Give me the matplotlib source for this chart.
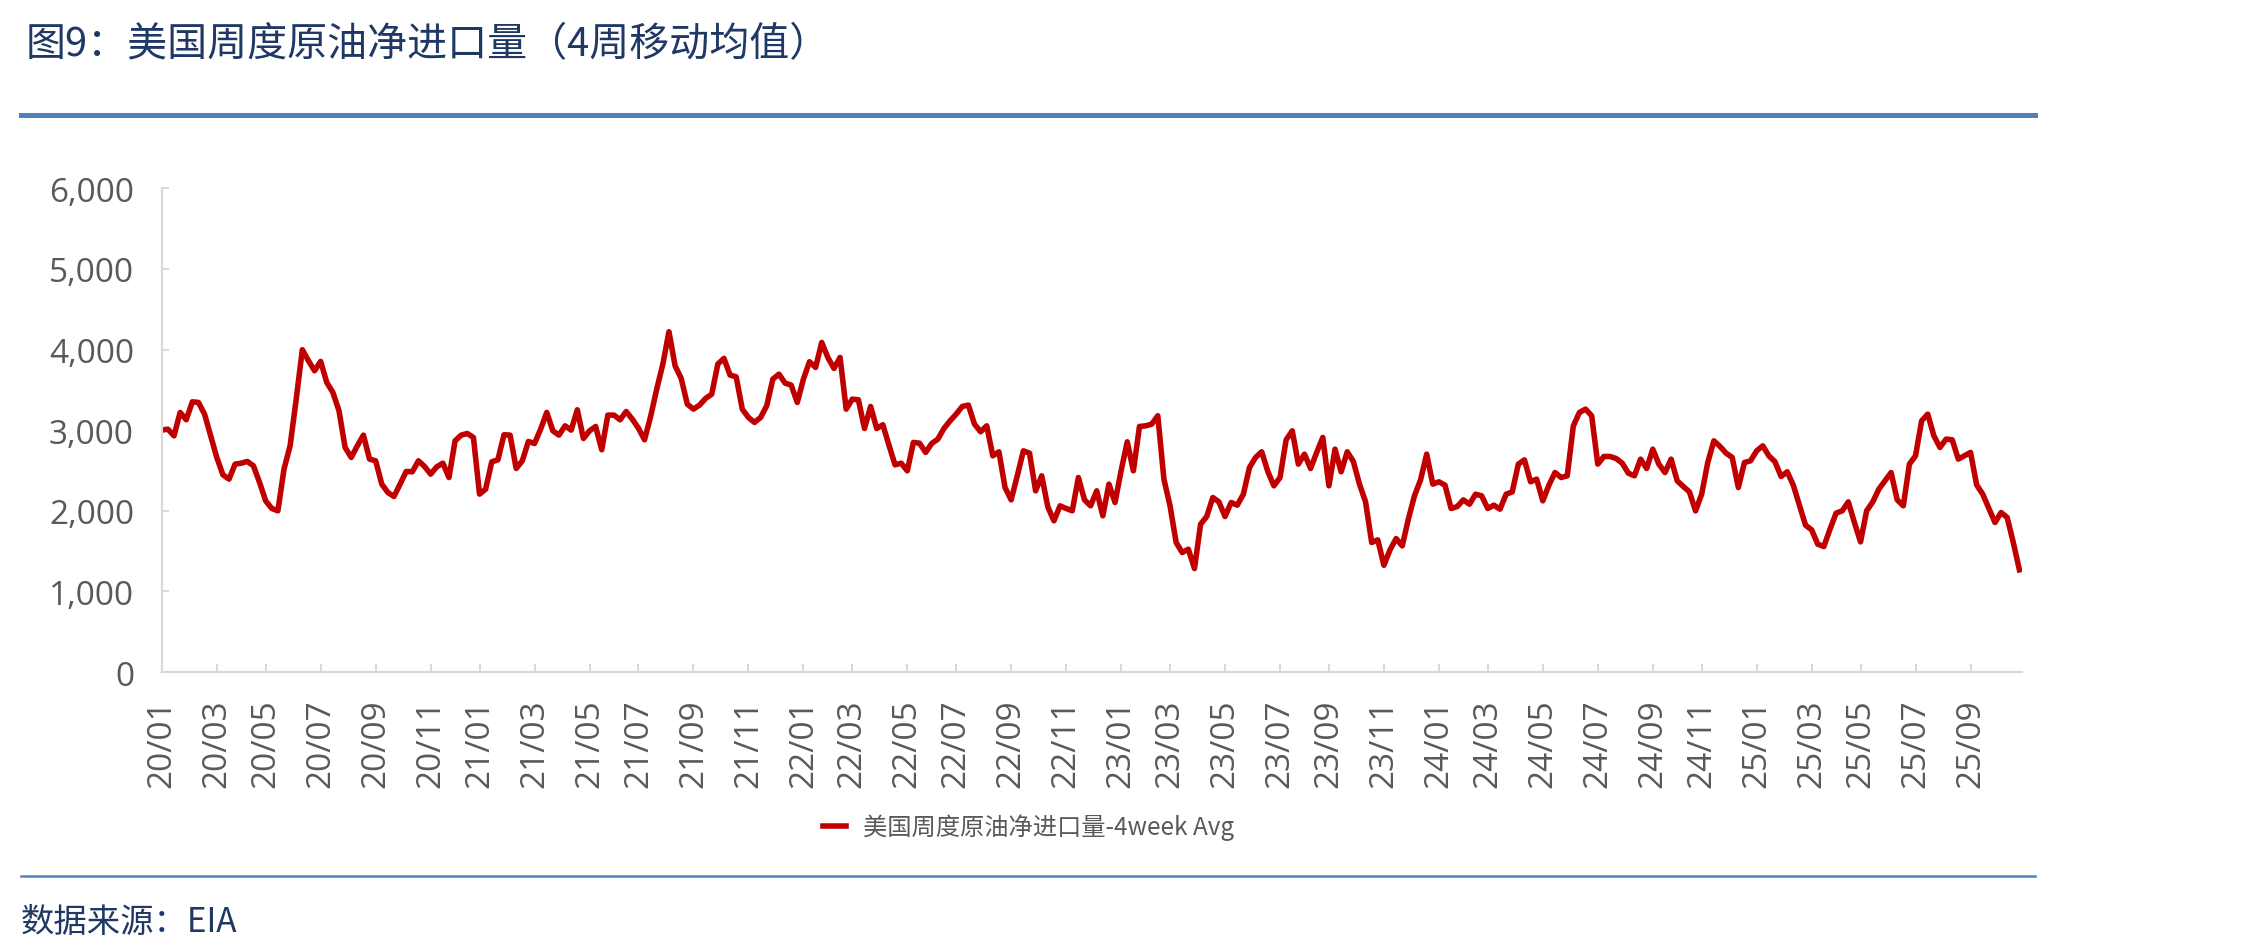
import numpy as np
import pandas as pd
import matplotlib
matplotlib.use("Agg")
import matplotlib.pyplot as plt
from matplotlib.lines import Line2D
from matplotlib.ticker import FuncFormatter, MultipleLocator

plt.rcParams["font.family"] = ["Noto Sans CJK SC", "DejaVu Sans"]

# 美国周度原油净进口量 4周均值（千桶/日），每周一个点，2020-01-03 起
start_date = "2020-01-03"
vals_2020 = [3001, 3013, 2930, 3220, 3129, 3352, 3344, 3199, 2930, 2662, 2447, 2393, 2579,
             2591, 2612, 2558, 2352, 2124, 2029, 2000, 2517, 2806, 3385, 3998, 3861, 3737,
             3853, 3592, 3468, 3241, 2786, 2662, 2806, 2939, 2641, 2620, 2331, 2227, 2178,
             2331, 2488, 2484, 2620, 2550, 2455, 2546, 2591, 2413, 2868, 2939, 2959, 2910]
vals_2021 = [2207, 2269, 2608, 2632, 2943, 2939, 2525, 2620, 2860, 2835, 3013, 3220, 2992,
             2939, 3054, 3001, 3253, 2897, 2992, 3046, 2757, 3187, 3187, 3129, 3232, 3137,
             3025, 2881, 3170, 3509, 3820, 4221, 3799, 3642, 3323, 3261, 3311, 3394, 3447,
             3820, 3890, 3683, 3662, 3261, 3158, 3096, 3158, 3303, 3633, 3695, 3584, 3559,
             3344, 3633]
vals_2022 = [3849, 3778, 4088, 3902, 3766, 3902, 3261, 3385, 3377, 3021, 3294, 3021, 3067,
             2814, 2570, 2591, 2496, 2848, 2839, 2724, 2835, 2889, 3021, 3116, 3199, 3294,
             3311, 3075, 2980, 3054, 2682, 2732, 2289, 2136, 2434, 2744, 2715, 2248, 2434,
             2049, 1876, 2062, 2029, 2000, 2413, 2136, 2062, 2248, 1938, 2331, 2103]
vals_2023 = [2500, 2856, 2496, 3046, 3054, 3075, 3179, 2393, 2062, 1607, 1483, 1524, 1284,
             1834, 1929, 2165, 2111, 1929, 2103, 2070, 2206, 2537, 2662, 2732, 2488, 2310,
             2413, 2881, 2992, 2579, 2703, 2525, 2724, 2910, 2310, 2765, 2484, 2732, 2612,
             2331, 2111, 1607, 1640, 1325, 1516, 1656, 1565, 1896, 2186, 2384, 2703, 2331,
             2360]
vals_2024 = [2318, 2029, 2053, 2136, 2082, 2206, 2186, 2029, 2070, 2020, 2206, 2235, 2579,
             2632, 2360, 2393, 2124, 2318, 2475, 2413, 2434, 3054, 3220, 3261, 3179, 2579,
             2674, 2674, 2649, 2591, 2467, 2434, 2641, 2525, 2765, 2579, 2475, 2641, 2372,
             2302, 2235, 1999, 2206, 2599, 2868, 2798, 2715, 2662, 2289, 2599, 2620]
vals_2025 = [2744, 2806, 2682, 2608, 2426, 2484, 2318, 2070, 1822, 1764, 1586, 1557, 1772,
             1971, 2000, 2111, 1855, 1615, 2000, 2111, 2269, 2372, 2475, 2136, 2062, 2579,
             2682, 3116, 3199, 2930, 2786, 2889, 2881, 2641, 2682, 2724, 2322, 2206, 2029,
             1855, 1979, 1917, 1607, 1268]

values = vals_2020 + vals_2021 + vals_2022 + vals_2023 + vals_2024 + vals_2025
dates = pd.date_range(start_date, periods=len(values), freq="7D")
idx = np.arange(len(values))

series_name = "美国周度原油净进口量-4week Avg"
title = "图9：美国周度原油净进口量（4周移动均值）"
source = "数据来源：EIA"

# 每两个月第一周打一个刻度
tick_pos = [i for i, d in enumerate(dates)
            if d.month % 2 == 1 and (i == 0 or dates[i - 1].month != d.month)]
tick_lab = [dates[i].strftime("%y/%m") for i in tick_pos]

navy = "#1F3864"
blue = "#4F81BD"
grey = "#595959"
axis_grey = "#D9D9D9"

fig = plt.figure(figsize=(22.47, 9.53), dpi=100)
ax = fig.add_axes([0.0720, 0.2937, 0.8278, 0.5077])

line, = ax.plot(idx, values, color="#C00000", lw=4.0, solid_joinstyle="round",
                label=series_name)

ax.set_xlim(0, len(values) - 0.6)
ax.set_ylim(0, 6000)
ax.yaxis.set_major_locator(MultipleLocator(1000))
ax.yaxis.set_major_formatter(FuncFormatter(lambda v, p: f"{v:,.0f}"))
ax.set_xticks(tick_pos)
ax.set_xticklabels(tick_lab, rotation=90, va="top", ha="center")

for s in ["top", "right"]:
    ax.spines[s].set_visible(False)
for s in ["left", "bottom"]:
    ax.spines[s].set_color(axis_grey)
    ax.spines[s].set_linewidth(1.6)

ax.tick_params(axis="y", direction="in", length=5, width=1.4, color=axis_grey,
               pad=20, labelsize=24, labelcolor=grey)
ax.tick_params(axis="x", direction="in", length=6, width=1.4, color=axis_grey,
               pad=19, labelsize=24, labelcolor=grey)
for lab in ax.get_xticklabels() + ax.get_yticklabels():
    lab.set_family(["Open Sans", "DejaVu Sans"])

# 标题与分隔线
fig.text(0.0116, 0.9528, title, fontsize=28.8, color=navy, va="center", ha="left")
fig.add_artist(Line2D([0.0093, 0.9057], [0.8788, 0.8788], color=blue, lw=3.6))
fig.add_artist(Line2D([0.0093, 0.9057], [0.0798, 0.0798], color=blue, lw=1.8))
fig.text(0.0093, 0.0325, source, fontsize=24, color=navy, va="center", ha="left")

leg = fig.legend(handles=[line], loc="center", bbox_to_anchor=(0.4577, 0.1312),
                 frameon=False, fontsize=17.5, handlelength=0.95, handletextpad=0.7)
for t in leg.get_texts():
    t.set_color(grey)

fig.savefig("out.png", dpi=100)
